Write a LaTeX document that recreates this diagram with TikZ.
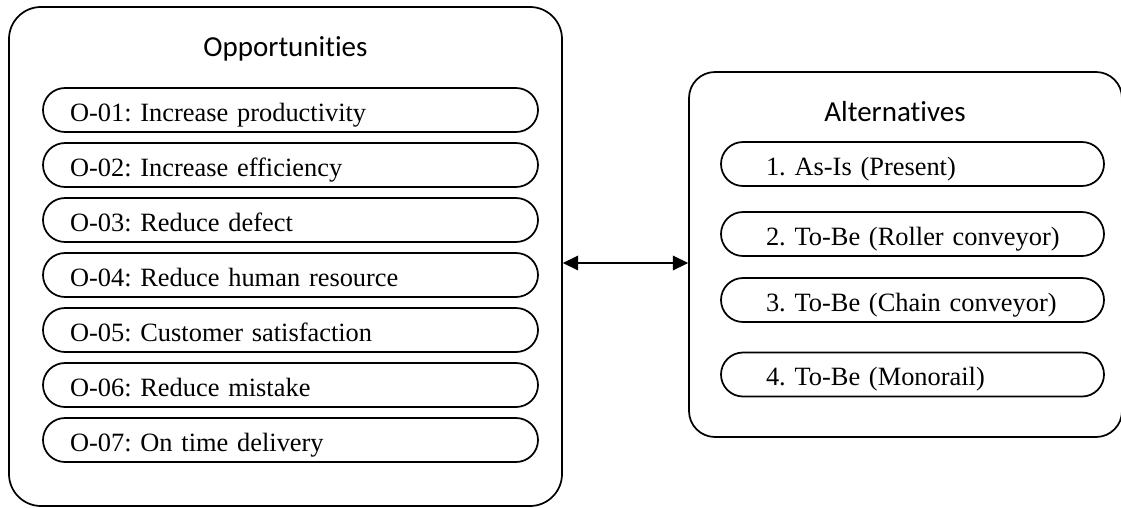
\documentclass[tikz,border=0pt]{standalone}
\usepackage{fontspec}
\setmainfont{Liberation Serif}
\newfontfamily\titlefont[Ligatures=NoCommon]{Carlito}
\usetikzlibrary{arrows.meta}
\frenchspacing

\begin{document}
\begin{tikzpicture}[x=0.75pt,y=-0.75pt,
  panel/.style={rectangle,draw=black,line width=1.3pt,rounded corners=24pt},
  opp/.style={rectangle,draw=black,line width=1.3pt,rounded corners=16.5pt,
    minimum width=371.25pt,minimum height=33pt,text width=330.75pt,inner xsep=20.25pt,
    align=left,text height=16.5pt,text depth=0pt,font=\fontsize{19.8}{22}\selectfont},
  alt/.style={opp,minimum width=287.25pt,text width=219.75pt,inner xsep=33.75pt},
  heading/.style={anchor=base,font=\titlefont\fontsize{21.75}{24}\selectfont}]
\useasboundingbox (0,0) rectangle (1121,507);
\node at (285.5,256.5) (O) [panel,minimum width=414.75pt,minimum height=374.25pt] {};
\node at (905.5,254.5) (A) [panel,rounded corners=19.5pt,minimum width=324.75pt,minimum height=273.75pt] {};
\node at (285.5,56) (Ot) [heading] {Opportunities};
\node at (895,121) (At) [heading] {Alternatives};
\node at (290.5,110) (O1) [opp] {O-01: Increase productivity};
\node at (290.5,165) (O2) [opp] {O-02: Increase efficiency};
\node at (290.5,220) (O3) [opp] {O-03: Reduce defect};
\node at (290.5,275) (O4) [opp] {O-04: Reduce human resource};
\node at (290.5,330) (O5) [opp] {O-05: Customer satisfaction};
\node at (290.5,385) (O6) [opp] {O-06: Reduce mistake};
\node at (290.5,440) (O7) [opp] {O-07: On time delivery};
\node at (912.5,164) (A1) [alt] {\mbox{1. As-Is (Present)}};
\node at (912.5,234) (A2) [alt] {\mbox{2. To-Be (Roller conveyor)}};
\node at (912.5,300) (A3) [alt] {\mbox{3. To-Be (Chain conveyor)}};
\node at (912.5,374.5) (A4) [alt] {\mbox{4. To-Be (Monorail)}};
\draw [{Triangle[length=11.5pt,width=11pt]}-{Triangle[length=11.5pt,width=11pt]},line width=1.2pt]
  (O.east |- 0,263) -- (A.west |- 0,263);
\end{tikzpicture}
\end{document}
